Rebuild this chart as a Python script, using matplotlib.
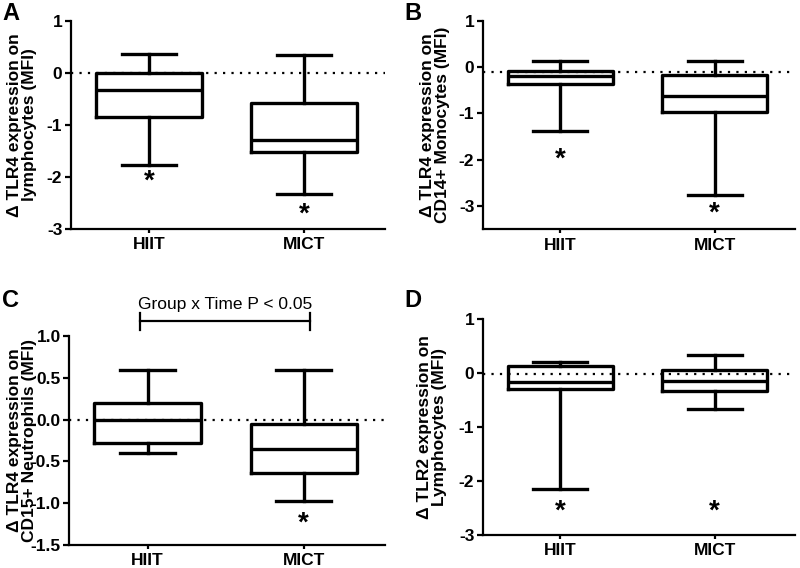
import numpy as np
import matplotlib.pyplot as plt
from matplotlib.transforms import offset_copy

plt.rc('font', family='Liberation Sans', weight='bold', size=12)

groups = ['HIIT', 'MICT']

# box stats per group: [whisker low, Q1, median, Q3, whisker high]
a_hiit = [-1.77, -0.85, -0.33, 0.0, 0.36]
a_mict = [-2.32, -1.52, -1.29, -0.58, 0.35]
b_hiit = [-1.37, -0.36, -0.20, -0.09, 0.13]
b_mict = [-2.76, -0.96, -0.62, -0.18, 0.13]
c_hiit = [-0.40, -0.28, 0.0, 0.20, 0.59]
c_mict = [-0.97, -0.64, -0.35, -0.056, 0.59]
d_hiit = [-2.15, -0.30, -0.17, 0.14, 0.21]
d_mict = [-0.67, -0.33, -0.14, 0.06, 0.33]

# significance star positions (y) per group, None = no star
a_stars = [-2.0, -2.62]
b_stars = [-1.88, -3.06]
c_stars = [None, -1.18]
d_stars = [-2.47, -2.47]

# dotted reference line level
a_ref, b_ref, c_ref, d_ref = 0.0, -0.1, 0.0, -0.02

panels = [
    ('A', [a_hiit, a_mict], a_stars, a_ref, (-3, 1), [1, 0, -1, -2, -3], '%d',
     'Δ TLR4 expression on\nlymphocytes (MFI)'),
    ('B', [b_hiit, b_mict], b_stars, b_ref, (-3.5, 1), [1, 0, -1, -2, -3], '%d',
     'Δ TLR4 expression on\nCD14+ Monocytes (MFI)'),
    ('C', [c_hiit, c_mict], c_stars, c_ref, (-1.5, 1.0), [1.0, 0.5, 0.0, -0.5, -1.0, -1.5], '%.1f',
     'Δ TLR4 expression on\nCD15+ Neutrophils (MFI)'),
    ('D', [d_hiit, d_mict], d_stars, d_ref, (-3, 1), [1, 0, -1, -2, -3], '%d',
     'Δ TLR2 expression on\nLymphocytes (MFI)'),
]

# axes rectangles in pixels: left, right, top, bottom
W, H = 800, 568
rects = [(70.7, 385, 20.7, 229), (482.7, 795, 20.7, 229.3),
         (69, 385, 336, 545), (482.7, 795, 319.3, 535)]
letter_pos = [(2, 2), (404, 2), (2, 289), (404, 289)]
# right edge of the y label, pixels left of the y axis
label_gap = [33.7, 32.7, 32, 35.7]

fig = plt.figure(figsize=(8, 5.68), dpi=100)

for (letter, data, stars, ref, ylim, yticks, fmt, ylabel), (l, r, t, b), (lx, ly), gap in zip(
        panels, rects, letter_pos, label_gap):
    ax = fig.add_axes([l / W, 1 - b / H, (r - l) / W, (b - t) / H])
    stats = []
    for g, s in zip(groups, data):
        stats.append(dict(label=g, whislo=s[0], q1=s[1], med=s[2], q3=s[3], whishi=s[4], fliers=[]))
    lw = 2.4
    ax.bxp(stats, positions=[1, 2], widths=0.68, showfliers=False,
           boxprops=dict(lw=lw, color='black'), medianprops=dict(lw=lw, color='black'),
           whiskerprops=dict(lw=lw, color='black'), capprops=dict(lw=lw, color='black'),
           capwidths=0.35, zorder=2)
    ax.axhline(ref, color='black', lw=1.6, ls=(0, (1, 2.8)), zorder=1)
    star_tr = offset_copy(ax.transData, fig=fig, x=0, y=-5, units='dots')
    for x, sy in zip([1, 2], stars):
        if sy is not None:
            ax.text(x, sy, '*', ha='center', va='center', fontsize=20, fontweight='bold',
                    transform=star_tr)
    ax.set_xlim(0.497, 2.52)
    ax.set_ylim(*ylim)
    ax.set_yticks(yticks)
    ax.set_yticklabels([fmt % v for v in yticks])
    ax.set_xticks([1, 2])
    ax.set_xticklabels(groups)
    for side in ['top', 'right']:
        ax.spines[side].set_visible(False)
    for side in ['left', 'bottom']:
        ax.spines[side].set_linewidth(1.6)
    ax.tick_params(width=1.6, length=4, labelsize=12.5, pad=2)
    ax.tick_params(axis='x', length=3, pad=3)
    ax.set_ylabel(ylabel, fontsize=12.5, fontweight='bold', linespacing=1.0)
    ax.yaxis.set_label_coords(-gap / (r - l), 0.5)
    fig.text(lx / W, 1 - ly / H, letter, fontsize=17, fontweight='bold', va='top', ha='left')
    if letter == 'C':
        x0, x1 = 0.95, 2.04
        ax.plot([x0, x1], [1.18, 1.18], color='black', lw=1.6, clip_on=False)
        ax.plot([x0, x0], [1.07, 1.28], color='black', lw=1.6, clip_on=False)
        ax.plot([x1, x1], [1.07, 1.28], color='black', lw=1.6, clip_on=False)
        ax.text((x0 + x1) / 2, 1.29, 'Group x Time P < 0.05', ha='center', va='bottom',
                fontsize=12.5, fontweight='normal', clip_on=False)

fig.savefig('out.png', dpi=100)
